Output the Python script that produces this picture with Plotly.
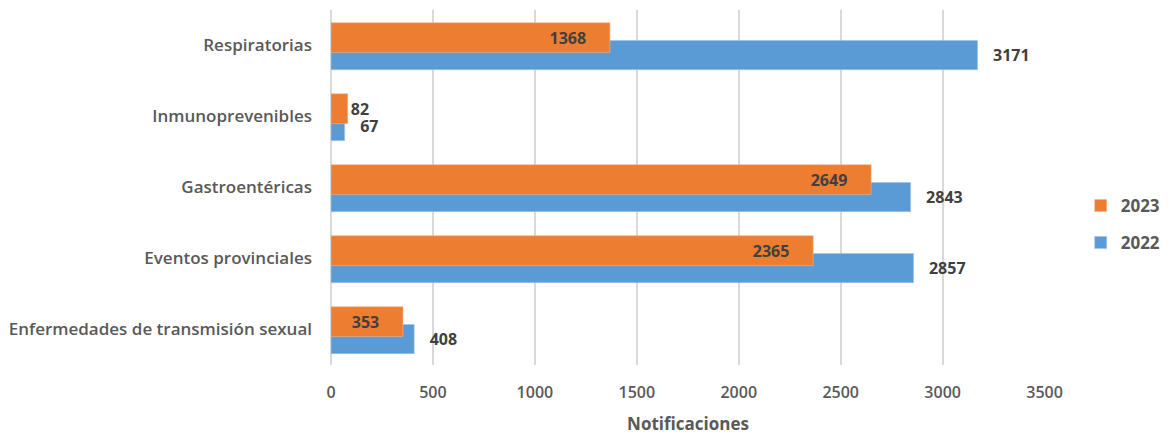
import plotly.graph_objects as go

categorias = [
    "Respiratorias",
    "Inmunoprevenibles",
    "Gastroentéricas",
    "Eventos provinciales",
    "Enfermedades de transmisión sexual",
]
notif_2023 = [1368, 82, 2649, 2365, 353]
notif_2022 = [3171, 67, 2843, 2857, 408]
ticks_x = [0, 500, 1000, 1500, 2000, 2500, 3000, 3500]

NARANJA = "#ED7D31"
AZUL = "#5B9BD5"
GRIS_TEXTO = "#595959"
GRIS_DATOS = "#404040"
FUENTE = "Open Sans"

NBSP = "\u00a0"

fig = go.Figure()

# 2022 primero para que la barra naranja quede por encima
fig.add_trace(go.Bar(
    name="2022",
    x=notif_2022,
    y=categorias,
    orientation="h",
    marker=dict(color=AZUL, line=dict(color="#9DC3E6", width=0.6)),
    width=0.41,
    offset=-0.07,
    text=notif_2022,
    texttemplate=NBSP * 3 + "%{x}",
    textposition="outside",
    textfont=dict(color=GRIS_DATOS, size=16, family=FUENTE, weight="bold"),
    cliponaxis=False,
    legendgroup="g2022",
    legendrank=2,
))

pos_2023 = ["outside" if v < 200 else "inside" for v in notif_2023]
plantilla_2023 = ["%{x}" if v < 200 else "%{x}" + NBSP * 5 for v in notif_2023]

fig.add_trace(go.Bar(
    name="2023",
    x=notif_2023,
    y=categorias,
    orientation="h",
    marker=dict(color=NARANJA, line=dict(color="#F4B183", width=0.6)),
    width=0.42,
    offset=-0.32,
    text=notif_2023,
    texttemplate=plantilla_2023,
    textposition=pos_2023,
    insidetextanchor="end",
    constraintext="none",
    textfont=dict(color=GRIS_DATOS, size=16, family=FUENTE, weight="bold"),
    cliponaxis=False,
    legendgroup="g2023",
    legendrank=1,
))

fig.update_layout(
    barmode="overlay",
    width=1171,
    height=435,
    paper_bgcolor="white",
    plot_bgcolor="white",
    margin=dict(l=323, r=134, t=2, b=78, autoexpand=False),
    font=dict(family=FUENTE, color=GRIS_TEXTO, size=16),
    legend=dict(
        x=1.05, y=0.396, xanchor="left", yanchor="middle",
        traceorder="grouped",
        tracegroupgap=12,
        font=dict(size=17, color=GRIS_TEXTO, family=FUENTE, weight="bold"),
    ),
    xaxis=dict(
        range=[0, 3502],
        tickvals=ticks_x,
        showgrid=True,
        gridcolor="#D9D9D9",
        gridwidth=1.5,
        zeroline=True,
        zerolinecolor="#D9D9D9",
        zerolinewidth=1.5,
        ticks="",
        ticklabelstandoff=16,
        tickfont=dict(size=16, color=GRIS_TEXTO, weight=600),
        title=dict(text="Notificaciones", standoff=16,
                   font=dict(size=17, color=GRIS_TEXTO, weight="bold")),
    ),
    yaxis=dict(
        autorange=False,
        range=[4.5, -0.5],
        type="category",
        showgrid=False,
        ticks="",
        ticklabelstandoff=18,
        tickfont=dict(size=17, color=GRIS_TEXTO, weight=600),
    ),
)

fig.write_html("out.html")
